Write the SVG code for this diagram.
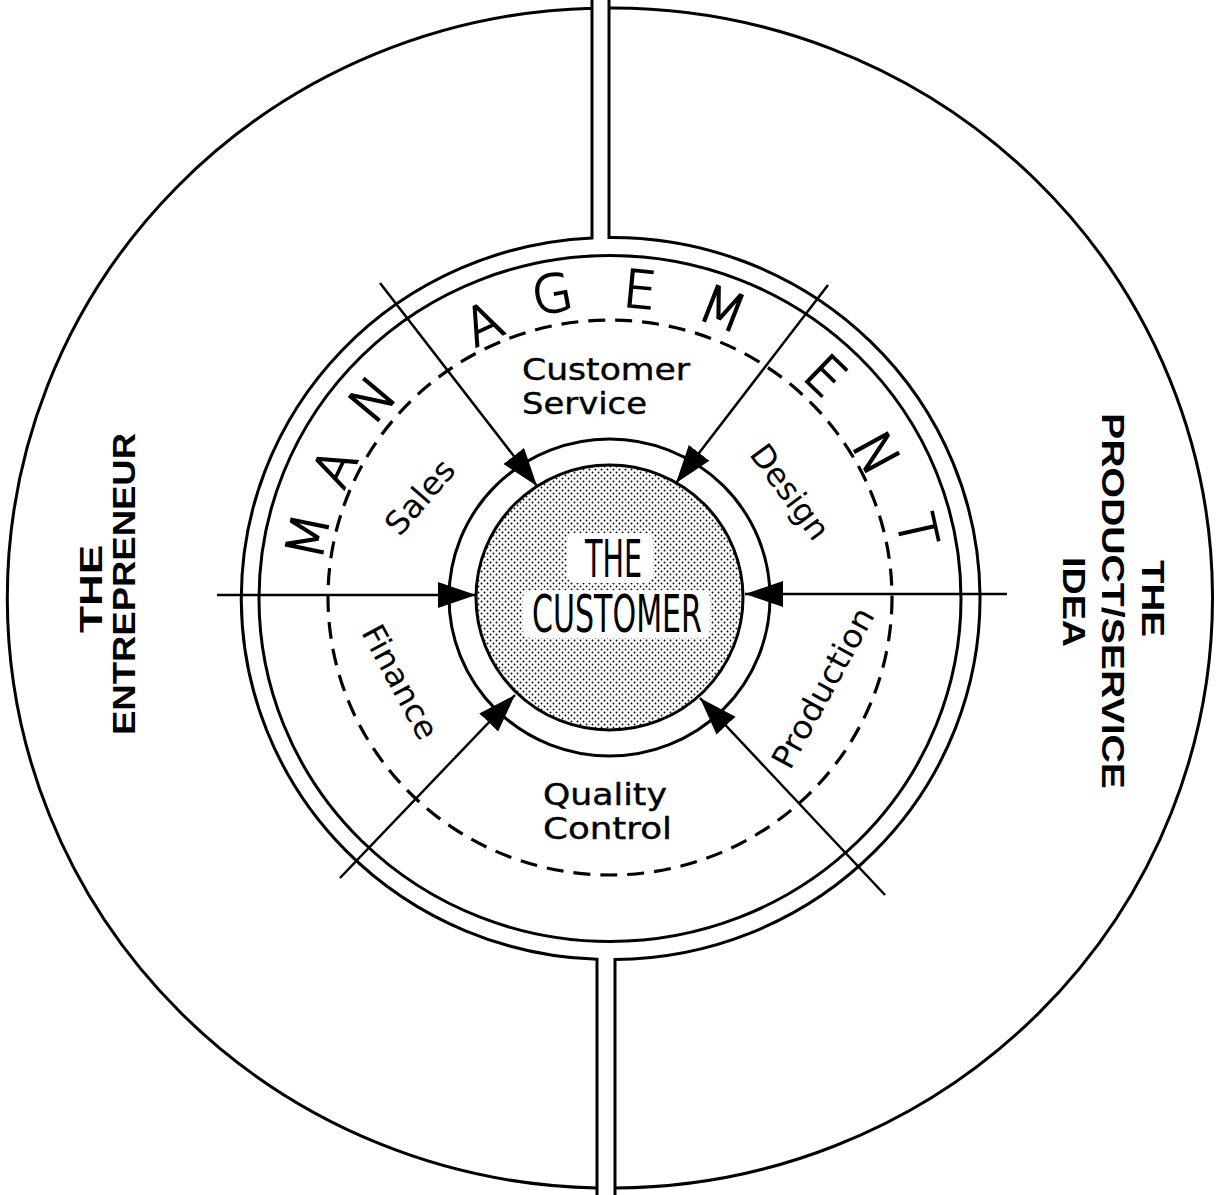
<svg xmlns="http://www.w3.org/2000/svg" width="1216" height="1195" viewBox="0 0 1216 1195">
<style>
.ln{fill:none;stroke:#000;stroke-width:3}
.sp{fill:none;stroke:#000;stroke-width:2.5}
.dash{fill:none;stroke:#000;stroke-width:3.2;stroke-dasharray:17 10}
.lab{font-family:"DejaVu Sans",sans-serif;font-size:32px;fill:#000}
.lab2{font-family:"DejaVu Sans",sans-serif;font-size:29.5px;fill:#000;stroke:#000;stroke-width:0.4}
.mg{font-family:"DejaVu Sans",sans-serif;font-weight:200;font-size:52px;fill:#000;stroke:#000;stroke-width:1.6;text-anchor:middle}
.cu{font-family:"DejaVu Sans Condensed","DejaVu Sans",sans-serif;font-weight:200;font-size:52px;fill:#000;text-anchor:middle}
.out{font-family:"Liberation Sans",Arial,sans-serif;font-weight:bold;font-size:31px;fill:#000;text-anchor:middle}
</style>
<defs>
<pattern id="dots" patternUnits="userSpaceOnUse" width="6" height="6">
<circle cx="1.5" cy="1.5" r="0.95" fill="#000"/>
<circle cx="4.5" cy="4.5" r="0.95" fill="#000"/>
</pattern>
<marker id="ah" markerUnits="userSpaceOnUse" markerWidth="40" markerHeight="30" refX="38" refY="13" orient="auto">
<path d="M0,0 L38,13 L0,26 Z" fill="#000"/>
</marker>
</defs>
<rect width="1216" height="1195" fill="#fff"/>
<g id="entrepreneur">
<path class="ln" d="M592,8.2 A600.5,590 0 0 0 597,1187.9 L597,1200 M597,1187.9 L597,959.3 A368,361 0 0 1 592,237.9 L592,-5"/>
<text class="out" transform="translate(102,589) rotate(-90)" textLength="88" lengthAdjust="spacingAndGlyphs">THE</text>
<text class="out" transform="translate(135,584) rotate(-90)" textLength="302" lengthAdjust="spacingAndGlyphs">ENTREPRENEUR</text>
</g>
<g id="product">
<path class="ln" d="M609,8 A600.5,590 0 0 1 615,1188 L615,1200 M615,1188 L615,959.5 A368,361 0 0 0 609,237.5 L609,-5"/>
<text class="out" transform="translate(1142,598.5) rotate(90)" textLength="77" lengthAdjust="spacingAndGlyphs">THE</text>
<text class="out" transform="translate(1102,601) rotate(90)" textLength="376" lengthAdjust="spacingAndGlyphs">PRODUCT/SERVICE</text>
<text class="out" transform="translate(1063,602) rotate(90)" textLength="90" lengthAdjust="spacingAndGlyphs">IDEA</text>
</g>
<g id="management">
<ellipse class="ln" cx="610" cy="598.5" rx="351" ry="343"/>
<ellipse class="dash" cx="610" cy="597.5" rx="282" ry="277.5"/>
<text class="mg" transform="translate(307,536) rotate(-78.4)" y="19">M</text>
<text class="mg" transform="translate(334,467) rotate(-64.6)" y="19">A</text>
<text class="mg" transform="translate(372,399) rotate(-50.1)" y="19">N</text>
<text class="mg" transform="translate(483,323) rotate(-24.8)" y="19">A</text>
<text class="mg" transform="translate(552,293) rotate(-10.8)" y="19">G</text>
<text class="mg" transform="translate(640,289) rotate(5.5)" y="19">E</text>
<text class="mg" transform="translate(723,308) rotate(21.3)" y="19">M</text>
<text class="mg" transform="translate(826,375) rotate(44.1)" y="19">E</text>
<text class="mg" transform="translate(877,453) rotate(61.5)" y="19">N</text>
<text class="mg" transform="translate(918,530) rotate(77.6)" y="19">T</text>
</g>
<g id="customer-service">
<text class="lab2" x="522" y="380" textLength="168" lengthAdjust="spacingAndGlyphs">Customer</text>
<text class="lab2" x="522" y="414" textLength="125" lengthAdjust="spacingAndGlyphs">Service</text>
</g>
<g id="quality-control">
<text class="lab2" x="543" y="805" textLength="124" lengthAdjust="spacingAndGlyphs">Quality</text>
<text class="lab2" x="543" y="839" textLength="129" lengthAdjust="spacingAndGlyphs">Control</text>
</g>
<g id="sales">
<text class="lab" text-anchor="middle" transform="translate(420,497) rotate(-49)" y="11" textLength="88" lengthAdjust="spacingAndGlyphs">Sales</text>
</g>
<g id="design">
<text class="lab" text-anchor="middle" transform="translate(790,492) rotate(53.5)" y="11" textLength="110" lengthAdjust="spacingAndGlyphs">Design</text>
</g>
<g id="finance">
<text class="lab" text-anchor="middle" transform="translate(400,682) rotate(61.7)" y="11" textLength="125" lengthAdjust="spacingAndGlyphs">Finance</text>
</g>
<g id="production">
<text class="lab" text-anchor="middle" transform="translate(823,688) rotate(-61.3)" y="11" textLength="178" lengthAdjust="spacingAndGlyphs">Production</text>
</g>
<g id="the-customer">
<ellipse class="ln" cx="609.5" cy="597.5" rx="160.5" ry="158.5"/>
<ellipse cx="609.5" cy="597.5" rx="133.5" ry="132.5" fill="url(#dots)" stroke="#000" stroke-width="3"/>
<rect x="567" y="533" width="86" height="50" rx="8" fill="#fff"/>
<rect x="523" y="590" width="187" height="48" rx="8" fill="#fff"/>
<text class="cu" x="613.5" y="577" textLength="57" lengthAdjust="spacingAndGlyphs">THE</text>
<text class="cu" x="617" y="632" textLength="170" lengthAdjust="spacingAndGlyphs">CUSTOMER</text>
</g>
<g id="connectors">
<line class="sp" x1="217" y1="595" x2="476" y2="595" marker-end="url(#ah)"/>
<line class="sp" x1="1007" y1="594" x2="745" y2="594" marker-end="url(#ah)"/>
<line class="sp" x1="380" y1="283" x2="537" y2="486" marker-end="url(#ah)"/>
<line class="sp" x1="828" y1="285" x2="676" y2="483" marker-end="url(#ah)"/>
<line class="sp" x1="340" y1="878" x2="515" y2="695" marker-end="url(#ah)"/>
<line class="sp" x1="885" y1="895" x2="700" y2="698" marker-end="url(#ah)"/>
</g>
</svg>
